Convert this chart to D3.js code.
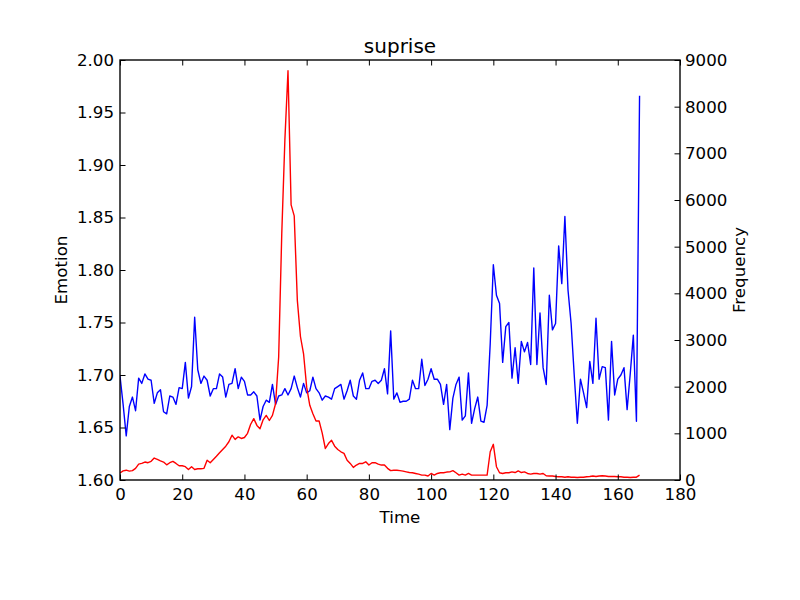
<!DOCTYPE html>
<html>
<head>
<meta charset="utf-8">
<script src="https://cdn.jsdelivr.net/npm/d3@7"></script>
<style>
  html, body { margin: 0; padding: 0; background: #fff; }
  svg { display: block; font-family: "DejaVu Sans", sans-serif; }
</style>
</head>
<body>
<svg id="chart" width="800" height="600"></svg>
<script>
// ---- data ----
const titleText = "suprise";
const xLabel = "Time";
const yLeftLabel = "Emotion";
const yRightLabel = "Frequency";

const xTicks = [0, 20, 40, 60, 80, 100, 120, 140, 160, 180];
const emotionTicks = [1.60, 1.65, 1.70, 1.75, 1.80, 1.85, 1.90, 1.95, 2.00];
const frequencyTicks = [0, 1000, 2000, 3000, 4000, 5000, 6000, 7000, 8000, 9000];

const emotion = [
  1.699, 1.672, 1.642, 1.670, 1.679, 1.666, 1.697, 1.692, 1.701, 1.696,
  1.695, 1.673, 1.683, 1.686, 1.665, 1.663, 1.680, 1.679, 1.672, 1.688,
  1.687, 1.712, 1.678, 1.689, 1.755, 1.705, 1.692, 1.699, 1.695, 1.680,
  1.687, 1.687, 1.701, 1.698, 1.679, 1.691, 1.692, 1.706, 1.687, 1.698,
  1.694, 1.681, 1.681, 1.684, 1.680, 1.657, 1.670, 1.676, 1.674, 1.691,
  1.672, 1.680, 1.681, 1.687, 1.681, 1.687, 1.699, 1.688, 1.679, 1.692,
  1.683, 1.685, 1.698, 1.687, 1.683, 1.676, 1.680, 1.679, 1.677, 1.687,
  1.689, 1.691, 1.677, 1.685, 1.695, 1.680, 1.677, 1.695, 1.702, 1.687,
  1.687, 1.694, 1.695, 1.692, 1.695, 1.706, 1.682, 1.742, 1.677, 1.683,
  1.674, 1.675, 1.675, 1.677, 1.695, 1.687, 1.687, 1.715, 1.690, 1.696,
  1.706, 1.696, 1.696, 1.691, 1.672, 1.691, 1.648, 1.678, 1.691, 1.698,
  1.657, 1.661, 1.702, 1.654, 1.668, 1.679, 1.656, 1.655, 1.671, 1.730,
  1.805, 1.776, 1.768, 1.712, 1.746, 1.750, 1.697, 1.726, 1.692, 1.732,
  1.722, 1.731, 1.710, 1.802, 1.710, 1.759, 1.707, 1.691, 1.776, 1.743,
  1.749, 1.823, 1.787, 1.851, 1.781, 1.749, 1.700, 1.654, 1.696, 1.683,
  1.669, 1.713, 1.692, 1.754, 1.696, 1.708, 1.707, 1.657, 1.732, 1.681,
  1.696, 1.700, 1.707, 1.667, 1.701, 1.738, 1.656, 1.966
];

const frequency = [
  150, 195, 210, 190, 200, 250, 340, 355, 385, 370,
  400, 470, 440, 410, 385, 325, 370, 400, 355, 305,
  305, 285, 225, 285, 225, 240, 240, 250, 425, 370,
  440, 510, 585, 655, 725, 820, 960, 870, 925, 890,
  910, 1000, 1195, 1315, 1170, 1100, 1290, 1385, 1275, 1385,
  1635, 2635, 5290, 7290, 8770, 5895, 5660, 3850, 3075, 2705,
  1990, 1600, 1420, 1265, 1265, 1005, 675, 780, 850, 725,
  655, 605, 570, 425, 355, 270, 320, 355, 355, 390,
  320, 370, 370, 340, 320, 320, 250, 200, 210, 210,
  200, 190, 175, 160, 155, 140, 125, 105, 105, 85,
  140, 105, 140, 155, 155, 170, 175, 200, 155, 105,
  125, 105, 140, 105, 105, 105, 105, 105, 105, 605,
  765, 285, 155, 140, 155, 155, 175, 160, 195, 160,
  175, 140, 125, 140, 140, 125, 140, 90, 85, 85,
  75, 70, 70, 60, 70, 60, 60, 55, 60, 60,
  70, 75, 85, 75, 85, 90, 85, 75, 75, 75,
  70, 70, 60, 60, 55, 60, 60, 105
];

// ---- layout ----
const svg = d3.select("#chart");
const W = 800, H = 600;
const plot = { left: 120, right: 680, top: 60, bottom: 480 };
const fontSize = 16.67;

svg.append("rect").attr("width", W).attr("height", H).attr("fill", "#fff");

const x = d3.scaleLinear().domain([0, 180]).range([plot.left, plot.right]);
const yL = d3.scaleLinear().domain([1.6, 2.0]).range([plot.bottom, plot.top]);
const yR = d3.scaleLinear().domain([0, 9000]).range([plot.bottom, plot.top]);

const tickLen = 5.5;
const lw = 1.39;

// lines (clipped to plot area)
svg.append("clipPath").attr("id", "clip")
  .append("rect")
  .attr("x", plot.left).attr("y", plot.top)
  .attr("width", plot.right - plot.left).attr("height", plot.bottom - plot.top);

const lineE = d3.line().x((d, i) => x(i)).y(d => yL(d));
const lineF = d3.line().x((d, i) => x(i)).y(d => yR(d));

const g = svg.append("g").attr("clip-path", "url(#clip)");
g.append("path").datum(emotion).attr("d", lineE)
  .attr("fill", "none").attr("stroke", "#0000ff").attr("stroke-width", lw)
  .attr("stroke-linejoin", "round");
g.append("path").datum(frequency).attr("d", lineF)
  .attr("fill", "none").attr("stroke", "#ff0000").attr("stroke-width", lw)
  .attr("stroke-linejoin", "round");

// axes (ticks inward)
function styleAxis(sel) {
  sel.select(".domain").remove();
  sel.selectAll(".tick line").attr("stroke", "#000").attr("stroke-width", 1);
  sel.selectAll(".tick text").attr("fill", "#000")
    .attr("font-size", fontSize).attr("font-family", "DejaVu Sans, sans-serif");
}

// bottom
const axB = d3.axisBottom(x).tickValues(xTicks).tickFormat(d3.format("d"))
  .tickSizeInner(-tickLen).tickSizeOuter(0).tickPadding(10);
svg.append("g").attr("transform", `translate(0,${plot.bottom})`).call(axB).call(styleAxis)
  .selectAll(".tick text").attr("dy", "0.71em").attr("y", 8);

// top
const axT = d3.axisTop(x).tickValues(xTicks).tickFormat("")
  .tickSizeInner(-tickLen).tickSizeOuter(0);
svg.append("g").attr("transform", `translate(0,${plot.top})`).call(axT).call(styleAxis);

// left
const axL = d3.axisLeft(yL).tickValues(emotionTicks).tickFormat(d3.format(".2f"))
  .tickSizeInner(-tickLen).tickSizeOuter(0).tickPadding(11);
svg.append("g").attr("transform", `translate(${plot.left},0)`).call(axL).call(styleAxis)
  .selectAll(".tick text").attr("x", -6);

// right
const axR = d3.axisRight(yR).tickValues(frequencyTicks).tickFormat(d3.format("d"))
  .tickSizeInner(-tickLen).tickSizeOuter(0);
svg.append("g").attr("transform", `translate(${plot.right},0)`).call(axR).call(styleAxis)
  .selectAll(".tick text").attr("x", 5);

// frame
svg.append("rect")
  .attr("x", plot.left).attr("y", plot.top)
  .attr("width", plot.right - plot.left).attr("height", plot.bottom - plot.top)
  .attr("fill", "none").attr("stroke", "#000").attr("stroke-width", lw);

// title and labels
svg.append("text").attr("x", (plot.left + plot.right) / 2).attr("y", 53)
  .attr("text-anchor", "middle").attr("font-size", 20).attr("fill", "#000")
  .text(titleText);

svg.append("text").attr("x", (plot.left + plot.right) / 2).attr("y", 523)
  .attr("text-anchor", "middle").attr("font-size", fontSize).attr("fill", "#000")
  .text(xLabel);

svg.append("text")
  .attr("transform", `translate(67,${(plot.top + plot.bottom) / 2}) rotate(-90)`)
  .attr("text-anchor", "middle").attr("font-size", fontSize).attr("fill", "#000")
  .text(yLeftLabel);

svg.append("text")
  .attr("transform", `translate(745,${(plot.top + plot.bottom) / 2}) rotate(-90)`)
  .attr("text-anchor", "middle").attr("font-size", fontSize).attr("fill", "#000")
  .text(yRightLabel);
</script>
</body>
</html>
